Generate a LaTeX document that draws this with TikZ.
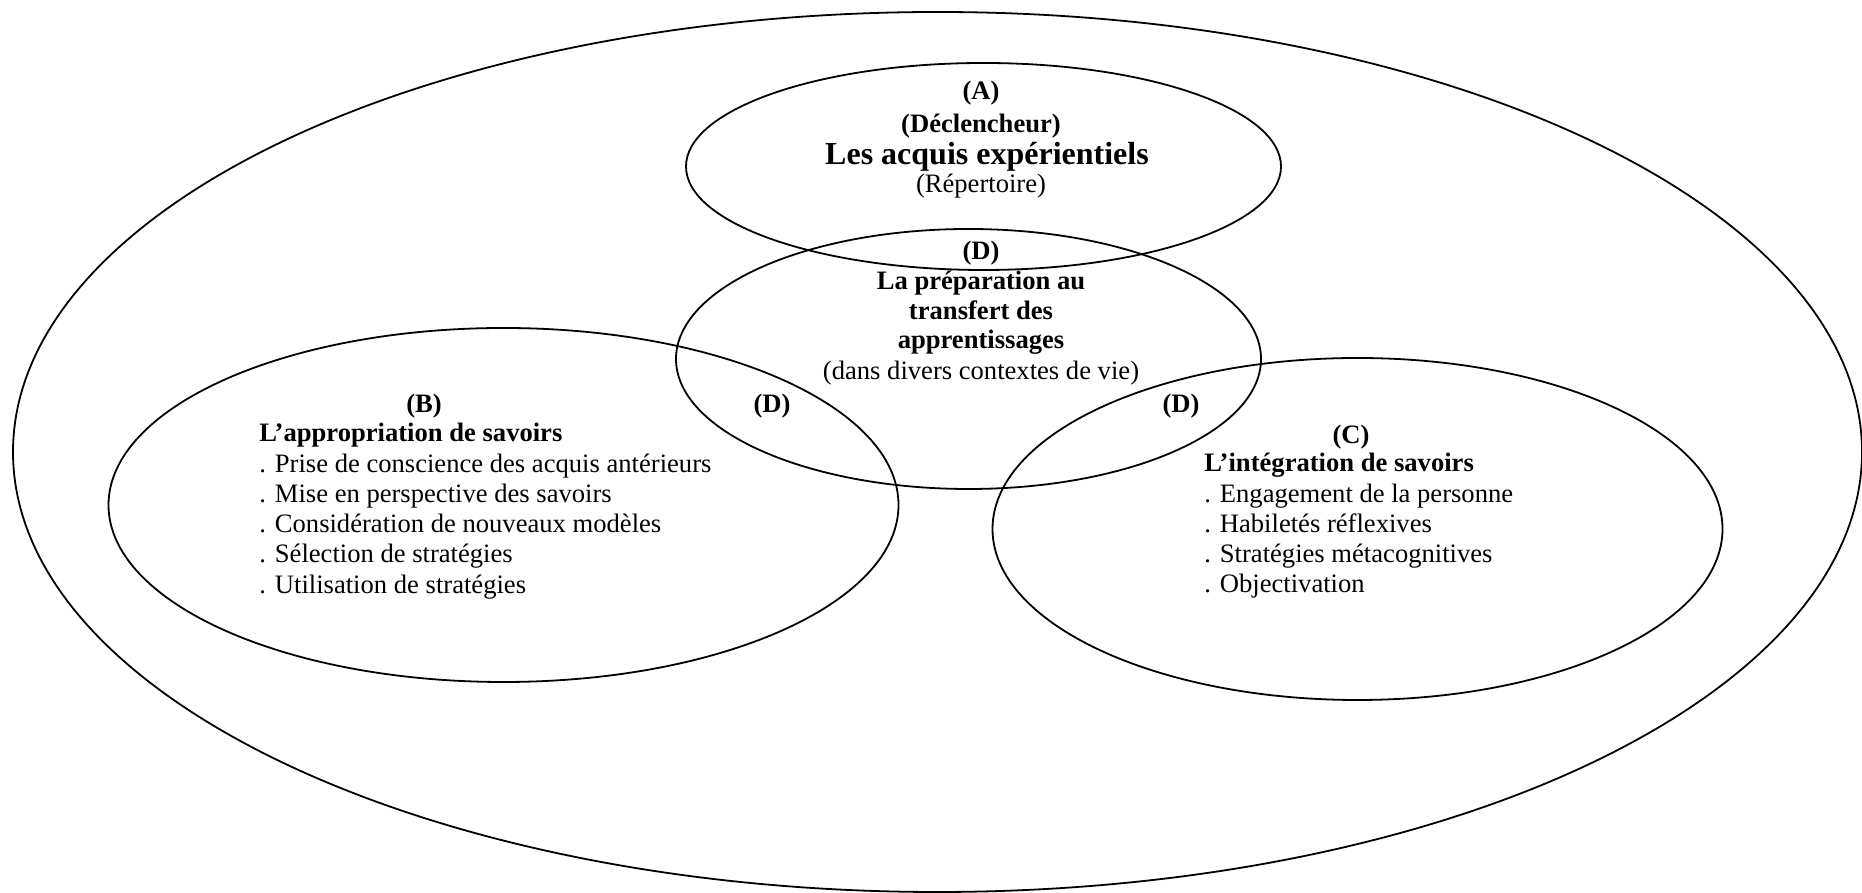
\documentclass[tikz,border=0pt]{standalone}
\usepackage{fontspec}
\setmainfont{Liberation Serif}
\usetikzlibrary{positioning}

\tikzset{
  zone/.style={line width=0.9pt},
  txt/.style={inner sep=0pt, anchor=base, font=\fontsize{13.3}{15}\selectfont},
  txtb/.style={txt, font=\fontsize{13.3}{15}\selectfont\bfseries},
  puce/.style={txt, anchor=base west},
}

\begin{document}
\begin{tikzpicture}[x=0.5pt,y=0.5pt]
  \useasboundingbox (0,0) rectangle (1862,893);
  % les cinq zones
  \draw[zone] (937.5,441) ellipse [x radius=924.5, y radius=440];
  \draw[zone] (983.5,726.5) ellipse [x radius=297.5, y radius=103.5];
  \draw[zone] (968.5,534) ellipse [x radius=292.5, y radius=130];
  \draw[zone] (503.5,388) ellipse [x radius=395, y radius=177];
  \draw[zone] (1357.5,364) ellipse [x radius=365, y radius=171];
  % (A)
  \node[txtb] (a1) at (981,793) {(A)};
  \node[txtb] (a2) at (981,760) {(Déclencheur)};
  \node[txt, font=\fontsize{16}{18}\selectfont\bfseries] (a3) at (987,728) {Les acquis expérientiels};
  \node[txt] (a4) at (981,700) {(Répertoire)};
  % (D)
  \node[txtb] (d0) at (981,633) {(D)};
  \node[txtb] (d1) at (981,603) {La préparation au};
  \node[txtb] (d2) at (981,573) {transfert des};
  \node[txtb] (d3) at (981,544) {apprentissages};
  \node[txt] (d4) at (981,513) {(dans divers contextes de vie)};
  \node[txtb] (dl) at (772,480) {(D)};
  \node[txtb] (dr) at (1181,480) {(D)};
  % (B)
  \node[txtb] (b0) at (424,480) {(B)};
  \node[txtb, anchor=base west] (bt) at (259,451) {L’appropriation de savoirs};
  \foreach \t [count=\i] in {{. Prise de conscience des acquis antérieurs},
      {. Mise en perspective des savoirs}, {. Considération de nouveaux modèles},
      {. Sélection de stratégies}, {. Utilisation de stratégies}}
    \node[puce] (b\i) at (259,451-30.25*\i) {\t};
  % (C)
  \node[txtb] (c0) at (1351,449) {(C)};
  \node[txtb, anchor=base west] (ct) at (1204,421) {L’intégration de savoirs};
  \foreach \t [count=\i] in {{. Engagement de la personne}, {. Habiletés réflexives},
      {. Stratégies métacognitives}, {. Objectivation}}
    \node[puce] (c\i) at (1204,421-30.25*\i) {\t};
\end{tikzpicture}
\end{document}
